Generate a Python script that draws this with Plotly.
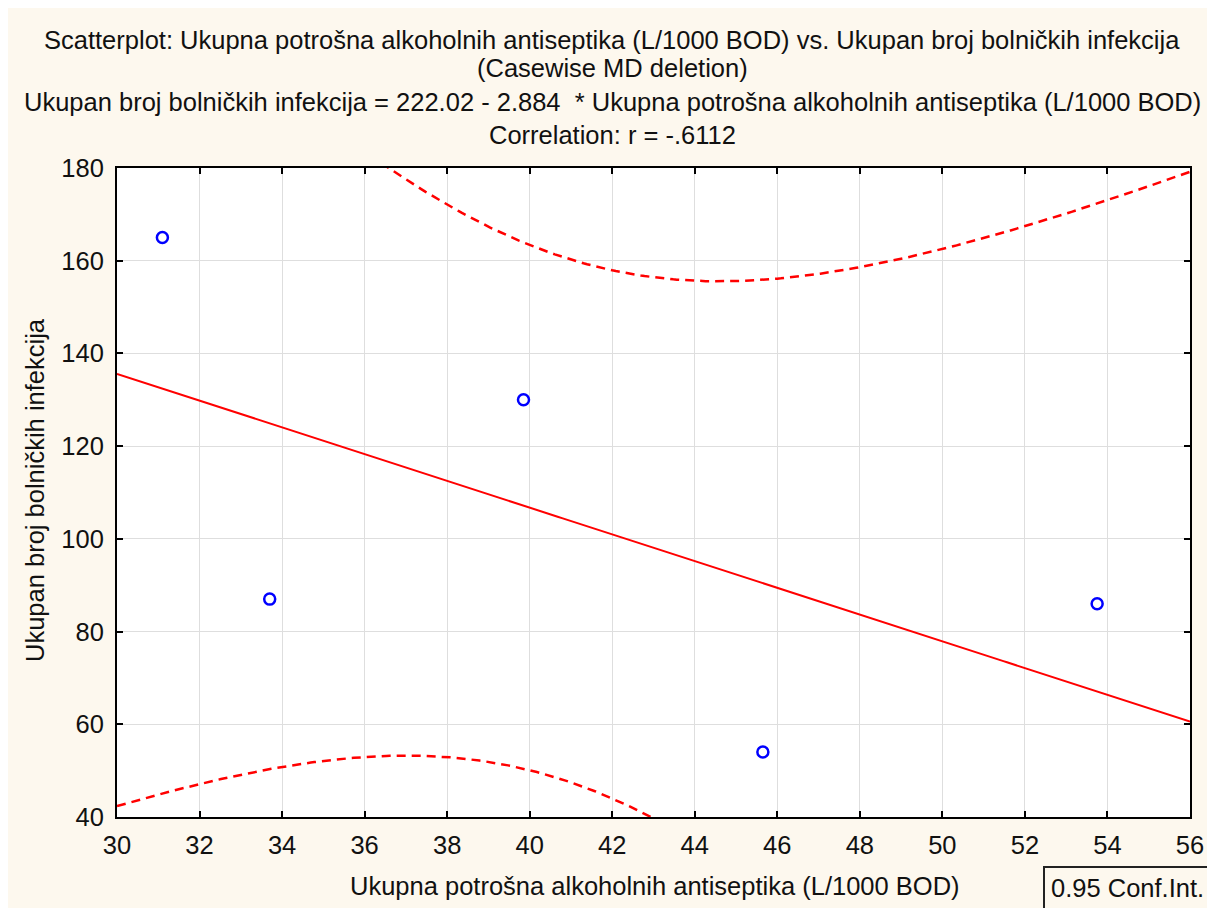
import numpy as np
import plotly.graph_objects as go

# Data
consumption = [31.1, 33.7, 39.85, 45.65, 53.75]   # Ukupna potrošna alkoholnih antiseptika (L/1000 BOD)
infections = [165, 87, 130, 54, 86]                # Ukupan broj bolničkih infekcija
x_ticks = [30, 32, 34, 36, 38, 40, 42, 44, 46, 48, 50, 52, 54, 56]
y_ticks = [40, 60, 80, 100, 120, 140, 160, 180]
T_975_DF3 = 3.1824  # Student t, 0.975 quantile, df = n - 2 = 3

title_lines = [
    "Scatterplot: Ukupna potrošna alkoholnih antiseptika (L/1000 BOD) vs. Ukupan broj bolničkih infekcija",
    "(Casewise MD deletion)",
    "Ukupan broj bolničkih infekcija = 222.02 - 2.884  * Ukupna potrošna alkoholnih antiseptika (L/1000 BOD)",
    "Correlation: r = -.6112",
]
x_title = "Ukupna potrošna alkoholnih antiseptika (L/1000 BOD)"
y_title = "Ukupan broj bolničkih infekcija"
legend_text = "0.95 Conf.Int."

# Regression and 95% confidence band for the mean
x = np.array(consumption, dtype=float)
y = np.array(infections, dtype=float)
n = len(x)
slope, intercept = np.polyfit(x, y, 1)
resid = y - (intercept + slope * x)
s = np.sqrt(np.sum(resid ** 2) / (n - 2))
sxx = np.sum((x - x.mean()) ** 2)
xg = np.linspace(x_ticks[0], x_ticks[-1], 300)
yg = intercept + slope * xg
half = T_975_DF3 * s * np.sqrt(1.0 / n + (xg - x.mean()) ** 2 / sxx)

W, H = 1215, 908
L, R, T, B = 109, 33, 160, 99
pw = W - L - R
ph = H - T - B


def px(xpix):
    return (xpix - L) / pw


def py(ypix):
    return (H - B - ypix) / ph


fig = go.Figure()
fig.add_trace(go.Scatter(x=xg, y=yg + half, mode="lines",
                         line=dict(color="#ff0000", width=2.5, dash="9px,6px"), hoverinfo="skip"))
fig.add_trace(go.Scatter(x=xg, y=yg - half, mode="lines",
                         line=dict(color="#ff0000", width=2.5, dash="9px,6px"), hoverinfo="skip"))
fig.add_trace(go.Scatter(x=xg, y=yg, mode="lines",
                         line=dict(color="#ff0000", width=2), hoverinfo="skip"))
fig.add_trace(go.Scatter(x=consumption, y=infections, mode="markers",
                         marker=dict(symbol="circle-open", size=11, color="#0000ff",
                                     line=dict(width=2.5, color="#0000ff"))))

FS = 25.5
font = dict(family="Liberation Sans, Arial, sans-serif", size=FS, color="#111111")

axis_common = dict(showline=True, linecolor="black", linewidth=2, mirror="ticks",
                   ticks="inside", ticklen=6, tickwidth=2, tickcolor="black",
                   showgrid=True, gridcolor="#dedede", gridwidth=1, zeroline=False,
                   tickfont=font)

fig.update_xaxes(range=[x_ticks[0], x_ticks[-1]], tickvals=x_ticks,
                 ticklabelstandoff=4, **axis_common)
fig.update_yaxes(range=[y_ticks[0], y_ticks[-1]], tickvals=y_ticks,
                 ticklabelstandoff=6, **axis_common)

ann = []
title_y_px = [32, 60, 94, 127]
for txt, ypix in zip(title_lines, title_y_px):
    ann.append(dict(text=txt, x=px(604), y=py(ypix),
                    xref="paper", yref="paper", showarrow=False,
                    xanchor="center", yanchor="middle", font=font))
ann.append(dict(text=x_title, x=px(647), y=py(878), xref="paper", yref="paper",
                showarrow=False, xanchor="center", yanchor="middle", font=font))
ann.append(dict(text=y_title, x=px(27), y=py(482),
                xref="paper", yref="paper", showarrow=False, textangle=-90,
                xanchor="center", yanchor="middle", font=font))
ann.append(dict(text=legend_text, x=px(1119), y=py(880),
                xref="paper", yref="paper", showarrow=False, xanchor="center", yanchor="middle",
                font=font, bordercolor="#222222", borderwidth=2, borderpad=6))

fig.update_layout(width=W, height=H, margin=dict(l=L, r=R, t=T, b=B),
                  paper_bgcolor="#fdf8ee", plot_bgcolor="white", showlegend=False,
                  annotations=ann, font=font)

fig.write_html("out.html")
